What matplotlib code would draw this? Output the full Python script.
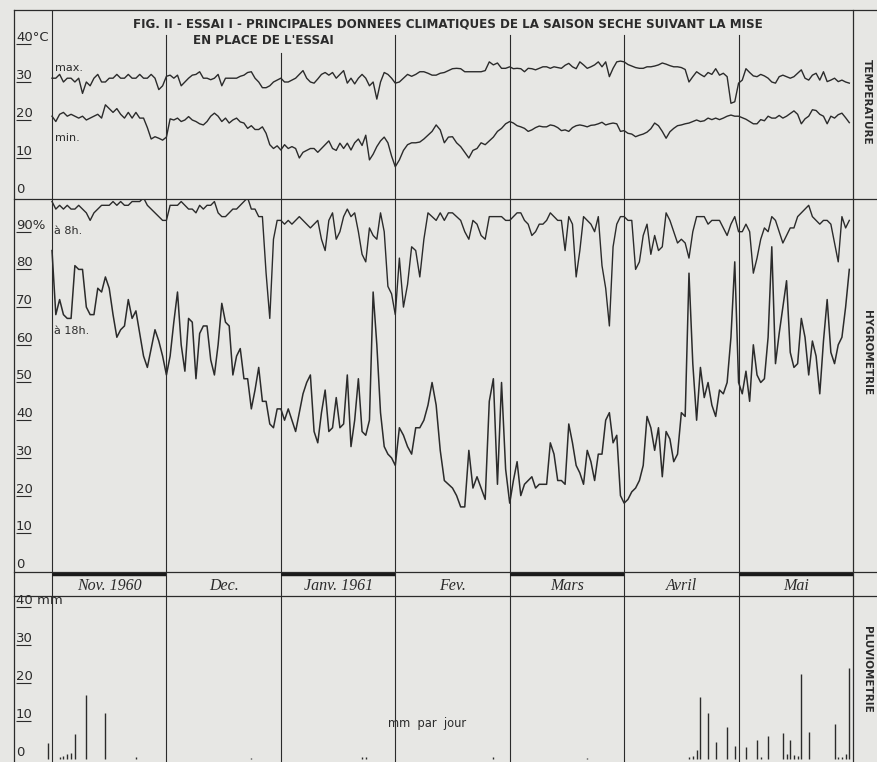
import numpy as np
import matplotlib
matplotlib.use('Agg')
import matplotlib.pyplot as plt
from matplotlib.lines import Line2D

SERIF = 'Liberation Serif'
SANS = 'DejaVu Sans'

BG = '#e7e7e4'
INK = '#2b2b2b'

# months (Nov 1960 -> May 1961)
months = ['Nov. 1960', 'Dec.', 'Janv. 1961', 'Fev.', 'Mars', 'Avril', 'Mai']
month_days = [30, 31, 31, 28, 31, 30, 31]

# temperature max (deg C), daily
tmax_nov = [31, 31, 32, 30, 31, 31, 30, 31, 27, 30, 29, 31, 32, 30, 30, 31, 31, 32, 31, 31,
            32, 31, 31, 32, 31, 31, 32, 31, 28, 29]
tmax_dec = [31.5, 31.8, 31, 31.8, 29, 30, 31, 31.8, 32, 32.7, 31, 31, 30.6, 31, 32, 29, 31, 31,
            31, 31, 31.5, 31.8, 32.5, 32.7, 31, 30, 28.5, 28.5, 29, 30, 30.5]
tmax_jan = [31, 30, 30, 30.5, 31, 32, 33, 31, 30, 29.7, 30.8, 32, 32.5, 31.8, 32.5, 31, 32, 33,
            29.7, 31, 29.5, 31, 32, 31, 29, 30, 25.5, 30, 32.5, 32, 31]
tmax_feb = [29.7, 30, 31, 32, 31.5, 32, 32.7, 32.7, 32.3, 31.8, 31.8, 32.3, 32.5, 33, 33.5, 33.6,
            33.5, 32.7, 32.7, 32.7, 32.7, 32.7, 33, 35.3, 34.5, 35, 33.6, 33.6]
tmax_mar = [34, 33.5, 33.6, 33.5, 32.7, 33.6, 33.5, 33.2, 33.6, 34, 34, 33.6, 34, 33.8, 33.6, 34.4,
            34.9, 34, 33.5, 35.3, 34.5, 33.6, 34, 34.5, 35.3, 34, 35.3, 31.4, 33.6, 35.3, 35.5]
tmax_apr = [35.3, 34.6, 34.2, 33.8, 33.6, 33.6, 34, 34, 34.2, 34.5, 35, 34.7, 34.3, 34, 34, 33.8,
            33.3, 30, 31.4, 32.7, 32, 31.4, 32.5, 32, 33.5, 31.8, 32.3, 31.4, 24.4, 24.8]
tmax_may = [29.7, 30.5, 33.5, 32.5, 31.6, 31.4, 32, 31.6, 31, 30, 29.7, 31.4, 31.8, 31.4, 31, 31.4,
            32.3, 33.2, 31, 30.5, 31.8, 32.3, 30.5, 32.7, 30.1, 30.5, 31, 30.1, 30.5, 30, 29.7]

# temperature min (deg C), daily
tmin_nov = [21, 19.6, 21.5, 22, 21, 21.5, 21, 20.5, 21, 20, 20.5, 21, 21.5, 20.5, 24, 23, 22, 23,
            21.5, 20.5, 22, 20.5, 22, 20.5, 20.5, 18, 15, 15.6, 15.2, 14.7]
tmin_dec = [15.5, 20.3, 20, 20.5, 19.6, 20, 20.9, 20, 19.6, 19, 18.7, 19.6, 21, 21.8, 21, 19.6,
            20.5, 19.2, 20, 20.5, 19.5, 19.2, 17.8, 18.5, 17.5, 17.5, 18.2, 16.5, 13.5, 12.5, 13.2]
tmin_jan = [12.1, 13.5, 12.5, 13, 12.5, 10, 11.5, 12, 12.5, 12.5, 11.5, 12.5, 13.5, 14.5, 12.5, 12,
            13.9, 12.5, 13.9, 12.1, 14, 15, 13.3, 16, 9.5, 11, 13, 14.5, 15.5, 14, 10.5]
tmin_feb = [7.7, 9.5, 12, 13.5, 14, 14, 14.2, 15, 16, 17, 18.7, 17.4, 14, 15.5, 15.6, 14, 13, 11.5,
            10, 12, 12.5, 14, 13.5, 14.5, 15.5, 17, 17.8, 19]
tmin_mar = [19.6, 19.2, 18.5, 18.2, 17.8, 17, 17.4, 18, 18.4, 18.2, 18.2, 18.7, 18.5, 18, 17.2, 17.4,
            17, 18, 18.5, 18.7, 18.5, 18.2, 18.6, 18.7, 19, 19.4, 18.7, 19, 19.2, 19, 17]
tmin_apr = [17.2, 16.5, 16.3, 15.6, 16, 16.3, 16.8, 17.7, 19.2, 18.5, 17, 15.2, 16.9, 17.8, 18.5,
            18.7, 19, 19.2, 19.6, 20, 19.6, 19.8, 20.5, 20.1, 20.5, 20.1, 20.5, 21, 21.3, 21]
tmin_may = [21, 20.6, 20.2, 19.6, 19, 19, 20.1, 19.8, 21, 20.5, 20.5, 21.2, 20.5, 21, 21.7, 22.4,
            21.5, 19, 20.3, 21, 22.7, 22.5, 21.5, 21, 19, 21, 20.5, 21.4, 21.8, 20.6, 19.3]

# relative humidity at 8h (%)
h8_nov = [98, 96, 97, 96, 97, 96, 96, 97, 96, 95, 93, 95, 96, 97, 97, 97, 98, 97, 98, 97, 97, 98,
          98, 98, 99, 97, 96, 95, 94, 93]
h8_dec = [93, 97, 97, 97, 98, 97, 96, 96, 95, 97, 96, 97, 97, 98, 95, 94, 94, 95, 96, 96, 97, 98,
          99, 96, 96, 94, 94, 79, 67, 88, 93]
h8_jan = [93, 92, 93, 92, 93, 94, 93, 92, 91, 92, 93, 88, 85, 93, 95, 88, 90, 94, 96, 94, 95, 90,
          84, 82, 91, 89, 88, 95, 90, 75.5, 73.5]
h8_feb = [68, 83, 70, 76, 86, 85, 78, 88, 95, 94, 93, 95, 93, 95, 95, 94, 93, 90, 88, 93, 92, 89,
          88, 94, 94, 94, 94, 93]
h8_mar = [93, 94, 95, 95, 93, 92, 89, 90, 92, 92, 93, 95, 94, 93, 93, 85, 94, 92, 78, 85, 94, 93,
          92, 90, 94, 81, 75, 65, 86, 92, 94]
h8_apr = [94, 93, 93, 80, 82, 89, 92, 84, 89, 85, 86, 95, 93, 90, 87, 88, 87, 83, 90, 94, 94, 94,
          92, 93, 93, 93, 91, 89, 92, 94]
h8_may = [90, 90, 92, 90, 79, 83, 88, 91, 90, 94, 93, 90, 87, 89, 91, 91, 94, 95, 96, 97, 94, 93,
          92, 93, 93, 92, 87, 82, 94, 91, 93]

# relative humidity at 18h (%)
h18_nov = [85, 68, 72, 68, 67, 67, 81, 80, 80, 70, 68, 68, 75, 74, 78, 75, 68, 62, 64, 65, 72, 67,
           69, 63, 57, 54, 59, 64, 61, 57]
h18_dec = [52, 57, 66, 74, 60, 53, 67, 66, 51, 63, 65, 65, 56, 52, 60, 71, 66, 65, 52, 57, 59, 51,
           51, 43, 48, 54, 45, 45, 39, 38, 43]
h18_jan = [43, 40, 43, 40, 37, 42, 47, 50, 52, 37, 34, 42, 48, 37, 38, 46, 38, 39, 52, 33, 40, 51,
           37, 36, 40, 74, 60, 42, 33, 31, 30]
h18_feb = [28, 38, 36, 33, 31, 38, 38, 40, 44, 50, 44, 32, 24, 23, 22, 20, 17, 17, 32, 22, 25, 22,
           19, 45, 51, 23, 50, 27]
h18_mar = [18, 24, 29, 20, 23, 24, 25, 22, 23, 23, 23, 34, 31, 24, 24, 23, 39, 34, 28, 26, 23, 32,
           29, 24, 31, 31, 40, 42, 34, 36, 20]
h18_apr = [18, 19, 21, 22, 24, 28, 41, 38, 32, 38, 25, 37, 35, 29, 31, 42, 41, 79, 55, 40, 54, 46,
           50, 44, 41, 48, 47, 50, 62, 82]
h18_may = [50, 47, 53, 45, 60, 52, 50, 51, 62, 86, 55, 63, 70, 77, 58, 54, 55, 67, 62, 52, 61, 57,
           47, 61, 72, 58, 55, 60, 62, 70, 80]

# rainfall (mm per day): month index, day of month, amount
rain_month = [0, 0, 0, 0, 0, 0, 0, 0, 0, 1, 2, 2, 3, 4, 5, 5, 5, 5, 5, 5, 5, 5,
              6, 6, 6, 6, 6, 6, 6, 6, 6, 6, 6, 6, 6, 6, 6, 6]
rain_day = [0, 3, 4, 5, 6, 7, 10, 15, 23, 24, 23, 24, 25, 22, 18, 19, 20, 21, 23, 25, 28, 30,
            3, 6, 7, 9, 13, 14, 15, 16, 17, 18, 20, 27, 28, 29, 30, 31]
rain_mm = [4.2, 0.4, 0.8, 1.3, 1.5, 6.6, 16.8, 12.1, 0.5, 0.3, 0.4, 0.6, 0.4, 0.3,
           0.4, 0.8, 2.4, 16.3, 12.1, 4.5, 8.4, 3.4,
           3.2, 5.0, 0.5, 6.0, 6.8, 1.2, 5.0, 1.0, 0.8, 22.4, 7.1, 9.2, 0.6, 0.5, 1.2, 24.0]


def day_x(m, d):
    return m + (d - 1) / month_days[m]


def series(*parts):
    xs, ys = [], []
    for m, vals in enumerate(parts):
        for i, v in enumerate(vals):
            xs.append(day_x(m, i + 1))
            ys.append(v)
    return np.array(xs), np.array(ys)


# ---- layout (pixels of the 878x762 page) ----
W, H = 878, 762
X0, X7 = 52, 853               # start of Nov, end of May
PPM = (X7 - X0) / 7            # pixels per month
XL = (14 - X0) / PPM
XR = (W - X0) / PPM

fig = plt.figure(figsize=(W / 100, H / 100), dpi=100, facecolor=BG)


def panel(top, bot, ppu, zero_px):
    ax = fig.add_axes([14 / W, 1 - bot / H, (W - 14) / W, (bot - top) / H])
    ax.set_xlim(XL, XR)
    ax.set_ylim((zero_px - bot) / ppu, (zero_px - top) / ppu)
    ax.axis('off')
    ax.patch.set_alpha(0)
    return ax


ax_t = panel(10, 199, 3.8, 196)
ax_h = panel(199, 572, 3.77, 571)
ax_s = fig.add_axes([14 / W, 1 - 596 / H, (W - 14) / W, 24 / H])
ax_s.set_xlim(XL, XR)
ax_s.set_ylim(0, 1)
ax_s.axis('off')
ax_r = panel(596, 762, 3.8, 759)


def hline(y, x1=14, x2=W, lw=0.9):
    fig.add_artist(Line2D([x1 / W, x2 / W], [1 - y / H, 1 - y / H], color=INK, lw=lw))


def vline(x, y1, y2, lw=0.9):
    fig.add_artist(Line2D([x / W, x / W], [1 - y1 / H, 1 - y2 / H], color=INK, lw=lw))


# frame
hline(10)
hline(199)
hline(572)
hline(596)
vline(14, 10, H)
vline(X7, 10, H)

# month boundaries
for ax in (ax_h, ax_s, ax_r):
    for m in range(0, 7):
        ax.axvline(m, color=INK, lw=0.8)
ax_t.axvline(0, color=INK, lw=0.8)
for m in range(1, 7):
    top = 53 if m == 2 else 35
    ax_t.axvline(m, ymax=(199 - top) / 189, color=INK, lw=0.8)

# thick month bars + month names
for m in (0, 2, 4, 6):
    ax_s.hlines(0.93, m, m + 1, color='#1a1a1a', lw=3.2)
for m, name in enumerate(months):
    ax_s.text(m + 0.5, 0.42, name, ha='center', va='center', family=SERIF,
              style='italic', fontsize=11.5, color=INK)

# temperature curves
x, y = series(tmax_nov, tmax_dec, tmax_jan, tmax_feb, tmax_mar, tmax_apr, tmax_may)
ax_t.plot(x, y, color=INK, lw=1.0)
x, y = series(tmin_nov, tmin_dec, tmin_jan, tmin_feb, tmin_mar, tmin_apr, tmin_may)
ax_t.plot(x, y, color=INK, lw=1.0)

# humidity curves
x, y = series(h8_nov, h8_dec, h8_jan, h8_feb, h8_mar, h8_apr, h8_may)
ax_h.plot(x, y, color=INK, lw=1.0)
x, y = series(h18_nov, h18_dec, h18_jan, h18_feb, h18_mar, h18_apr, h18_may)
ax_h.plot(x, y, color=INK, lw=1.1)

# rainfall bars
rx = [m + (d - 1) / month_days[m] for m, d in zip(rain_month, rain_day)]
ax_r.vlines(rx, 0, rain_mm, color=INK, lw=1.0)

# y scale labels (underlined numbers)
LX = (16 - X0) / PPM
DIG = 7.6 / PPM


def scale_labels(ax, vals, first_suffix):
    for i, v in enumerate(vals):
        s = str(v)
        txt = s + (first_suffix if i == 0 else '')
        ax.text(LX, v, txt, ha='left', va='bottom', fontsize=9.5, family=SANS, color=INK)
        if v != 0:
            ax.hlines(v, LX, LX + DIG * len(s), color=INK, lw=0.8)


scale_labels(ax_t, [40, 30, 20, 10, 0], '°C')
scale_labels(ax_h, [90, 80, 70, 60, 50, 40, 30, 20, 10, 0], '%')
scale_labels(ax_r, [40, 30, 20, 10, 0], ' mm')


def ftext(px, py, s, **kw):
    fig.text(px / W, 1 - py / H, s, color=INK, **kw)


# title
ftext(133, 24, "FIG. II - ESSAI I - PRINCIPALES DONNEES CLIMATIQUES DE LA SAISON SECHE SUIVANT LA MISE",
      ha='left', va='center', family=SANS, weight='bold', fontsize=8.6)
ftext(193, 40, "EN PLACE DE L'ESSAI", ha='left', va='center', family=SANS, weight='bold', fontsize=8.6)

# series labels
ftext(55, 68, 'max.', ha='left', va='center', family=SANS, fontsize=8)
ftext(55, 138, 'min.', ha='left', va='center', family=SANS, fontsize=8)
ftext(54, 231, 'à 8h.', ha='left', va='center', family=SANS, fontsize=8)
ftext(54, 331, 'à 18h.', ha='left', va='center', family=SANS, fontsize=8)
ftext(388, 724, 'mm  par  jour', ha='left', va='center', family=SANS, fontsize=8.3)

# side titles
for label, cy in (('TEMPERATURE', 102), ('HYGROMETRIE', 353), ('PLUVIOMETRIE', 669)):
    ftext(867, cy, label, ha='center', va='center', rotation=-90, family=SANS,
          weight='bold', fontsize=7.5)

fig.savefig('out.png', dpi=100, facecolor=BG)
